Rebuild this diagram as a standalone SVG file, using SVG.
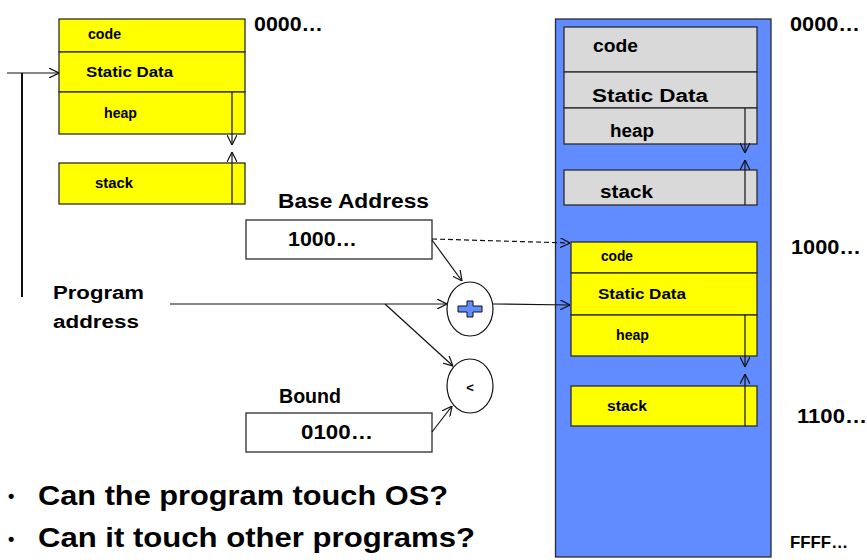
<svg xmlns="http://www.w3.org/2000/svg" width="867" height="560" viewBox="0 0 867 560">
  <style>
    text { font-family: "Comic Sans MS", "Liberation Sans", Arial, sans-serif; font-weight: bold; fill: #000; }
    .seg { stroke: #2b2b2b; stroke-width: 1.3; }
    .yel { fill: #ffff00; }
    .gry { fill: #d9d9d9; }
    .box { fill: #ffffff; stroke: #2b2b2b; stroke-width: 1.3; }
    .ln { stroke: #111; stroke-width: 1.2; fill: none; }
    .arr { stroke: #111; stroke-width: 1.2; fill: none; marker-end: url(#vee); }
    .s14 { font-size: 14px; }
    .s18 { font-size: 18px; }
    .s20 { font-size: 20px; }
  </style>
  <defs>
    <marker id="vee" viewBox="0 0 10 10" refX="10" refY="5" markerWidth="10" markerHeight="10" markerUnits="userSpaceOnUse" orient="auto">
      <path d="M0,0 L10,5 L0,10" fill="none" stroke="#111" stroke-width="1.2"/>
    </marker>
  </defs>

  <rect width="867" height="560" fill="#ffffff"/>

  <!-- program image (virtual layout) -->
  <g id="program-image">
    <rect class="seg yel" x="59" y="19" width="186" height="33"/>
    <rect class="seg yel" x="59" y="52" width="186" height="40"/>
    <rect class="seg yel" x="59" y="92" width="186" height="42"/>
    <rect class="seg yel" x="59" y="163" width="186" height="41"/>
    <text class="s14" x="88" y="39" textLength="33" lengthAdjust="spacingAndGlyphs">code</text>
    <text class="s14" x="86" y="77" textLength="87" lengthAdjust="spacingAndGlyphs">Static Data</text>
    <text class="s14" x="104" y="118" textLength="33" lengthAdjust="spacingAndGlyphs">heap</text>
    <text class="s14" x="95" y="188" textLength="38" lengthAdjust="spacingAndGlyphs">stack</text>
    <line class="arr" x1="232" y1="92" x2="232" y2="145"/>
    <line class="arr" x1="232" y1="204" x2="232" y2="152"/>
    <text class="s20" x="254" y="31" textLength="69" lengthAdjust="spacingAndGlyphs">0000…</text>
  </g>

  <!-- physical memory -->
  <g id="memory">
    <rect x="555.5" y="19" width="215.5" height="538" fill="#618cff" stroke="#2b2b2b" stroke-width="1.3"/>
    <text class="s20" x="790" y="31" textLength="70" lengthAdjust="spacingAndGlyphs">0000…</text>
    <text class="s20" x="791" y="254" textLength="70" lengthAdjust="spacingAndGlyphs">1000…</text>
    <text class="s20" x="797" y="423" textLength="70" lengthAdjust="spacingAndGlyphs">1100…</text>
    <text x="790" y="548" font-size="17" textLength="58" lengthAdjust="spacingAndGlyphs">FFFF…</text>
  </g>

  <!-- operating system region -->
  <g id="os-region">
    <rect class="seg gry" x="564" y="27" width="193" height="45"/>
    <rect class="seg gry" x="564" y="72" width="193" height="36"/>
    <rect class="seg gry" x="564" y="108" width="193" height="36"/>
    <rect class="seg gry" x="564" y="170" width="193" height="35"/>
    <text class="s18" x="593" y="52" textLength="45" lengthAdjust="spacingAndGlyphs">code</text>
    <text class="s18" x="592" y="102" textLength="116" lengthAdjust="spacingAndGlyphs">Static Data</text>
    <text class="s18" x="610" y="137" textLength="44" lengthAdjust="spacingAndGlyphs">heap</text>
    <text class="s18" x="600" y="198" textLength="53" lengthAdjust="spacingAndGlyphs">stack</text>
    <line class="arr" x1="745" y1="108" x2="745" y2="153"/>
    <line class="arr" x1="745" y1="205" x2="745" y2="160"/>
  </g>

  <!-- relocated program region -->
  <g id="program-region">
    <rect class="seg yel" x="571" y="242" width="186" height="31"/>
    <rect class="seg yel" x="571" y="273" width="186" height="42"/>
    <rect class="seg yel" x="571" y="315" width="186" height="41"/>
    <rect class="seg yel" x="571" y="386" width="186" height="40"/>
    <text class="s14" x="601" y="261" textLength="32" lengthAdjust="spacingAndGlyphs">code</text>
    <text class="s14" x="598" y="299" textLength="88" lengthAdjust="spacingAndGlyphs">Static Data</text>
    <text class="s14" x="616" y="340" textLength="33" lengthAdjust="spacingAndGlyphs">heap</text>
    <text class="s14" x="607" y="411" textLength="40" lengthAdjust="spacingAndGlyphs">stack</text>
    <line class="arr" x1="745" y1="315" x2="745" y2="367"/>
    <line class="arr" x1="745" y1="426" x2="745" y2="374"/>
  </g>

  <!-- base register -->
  <g id="base-register">
    <text class="s20" x="278" y="208" textLength="151" lengthAdjust="spacingAndGlyphs">Base Address</text>
    <rect class="box" x="246" y="220" width="186" height="39"/>
    <text class="s20" x="288" y="246" textLength="69" lengthAdjust="spacingAndGlyphs">1000…</text>
  </g>

  <!-- bound register -->
  <g id="bound-register">
    <text class="s20" x="279" y="403" textLength="62" lengthAdjust="spacingAndGlyphs">Bound</text>
    <rect class="box" x="246" y="413" width="186" height="39"/>
    <text class="s20" x="301" y="439" textLength="72" lengthAdjust="spacingAndGlyphs">0100…</text>
  </g>

  <!-- program address label -->
  <g id="program-address">
    <text class="s18" x="53" y="299" textLength="91" lengthAdjust="spacingAndGlyphs">Program</text>
    <text class="s18" x="53" y="328" textLength="86" lengthAdjust="spacingAndGlyphs">address</text>
  </g>

  <!-- adder -->
  <g id="adder">
    <ellipse cx="470" cy="309" rx="23" ry="27" fill="#ffffff" stroke="#111" stroke-width="1.2"/>
    <path d="M467,301 H473 V306 H482 V312 H473 V317 H467 V312 H458 V306 H467 Z" fill="#618cff" stroke="#111" stroke-width="1"/>
  </g>

  <!-- comparator -->
  <g id="comparator">
    <ellipse cx="470" cy="386" rx="23" ry="27" fill="#ffffff" stroke="#111" stroke-width="1.2"/>
    <text x="470" y="392" font-size="13" text-anchor="middle">&lt;</text>
  </g>

  <!-- connectors -->
  <g id="connectors">
    <line class="arr" x1="7" y1="73" x2="59" y2="73"/>
    <line x1="22" y1="73" x2="22" y2="297" stroke="#111" stroke-width="2"/>
    <line class="arr" x1="432" y1="239" x2="570" y2="243" stroke-dasharray="5,3"/>
    <line class="arr" x1="432" y1="240" x2="462" y2="281"/>
    <line class="arr" x1="170" y1="304" x2="447" y2="304"/>
    <line class="arr" x1="493" y1="304" x2="570" y2="305"/>
    <line class="arr" x1="385" y1="304" x2="453" y2="366"/>
    <line class="arr" x1="432" y1="432" x2="452" y2="406"/>
  </g>

  <!-- questions -->
  <g id="questions">
    <text x="8" y="502" font-size="18">•</text>
    <text x="38" y="505" font-size="28" textLength="410" lengthAdjust="spacingAndGlyphs">Can the program touch OS?</text>
    <text x="8" y="545" font-size="18">•</text>
    <text x="38" y="547" font-size="28" textLength="437" lengthAdjust="spacingAndGlyphs">Can it touch other programs?</text>
  </g>
</svg>
